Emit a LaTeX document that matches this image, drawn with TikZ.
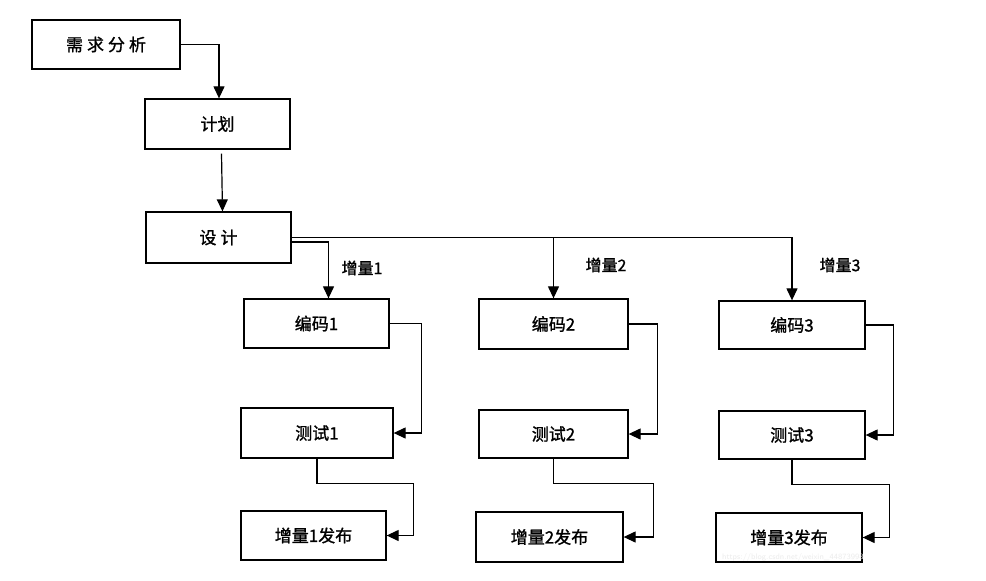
\documentclass[tikz,border=0pt]{standalone}
\usepackage{fontspec}
\newfontfamily\cjk{Noto Sans CJK SC}[FakeBold=1.2]
\usetikzlibrary{arrows.meta}
\tikzset{
  box/.style={draw, line width=1.3pt, rectangle, inner sep=0pt, font=\cjk\fontsize{17}{19}\selectfont},
  arr/.style={line width=1.2pt, -{Triangle[length=12pt,width=11pt]}},
  lbl/.style={font=\cjk\fontsize{16}{18}\selectfont, inner sep=0pt},
  wm/.style={font=\sffamily\fontsize{8}{9}\selectfont, text=gray!15, inner sep=0pt}
}
\begin{document}
\begin{tikzpicture}[x=1pt,y=-1pt]
\useasboundingbox[fill=white] (0,0) rectangle (986,581);
% main chain
\node[box, minimum width=148pt, minimum height=49pt] (req) at (106,44.5) {需\hspace{4pt}求\hspace{4pt}分\hspace{4pt}析};
\node[box, minimum width=145pt, minimum height=50pt] (plan) at (217.5,124) {计划};
\node[box, minimum width=145pt, minimum height=51pt] (design) at (218.5,237.5) {设\hspace{4pt}计};
% column 1
\node[box, minimum width=145pt, minimum height=49pt] (c1) at (316.5,323.5) {编码1};
\node[box, minimum width=152pt, minimum height=50pt] (t1) at (317,433) {测试1};
\node[box, minimum width=145pt, minimum height=49pt] (r1) at (313.5,535.5) {增量1发布};
% column 2
\node[box, minimum width=149pt, minimum height=50pt] (c2) at (553.5,324) {编码2};
\node[box, minimum width=149pt, minimum height=48pt] (t2) at (553.5,434) {测试2};
\node[box, minimum width=147pt, minimum height=50pt] (r2) at (549.5,537) {增量2发布};
% column 3
\node[box, minimum width=146pt, minimum height=48pt] (c3) at (792,325) {编码3};
\node[box, minimum width=146pt, minimum height=48pt] (t3) at (792,435) {测试3};
\node[box, minimum width=146pt, minimum height=49pt] (r3) at (789,537.5) {增量3发布};
% labels
\node[lbl] (l1) at (362,268) {增量1};
\node[lbl] (l2) at (606,265) {增量2};
\node[lbl] (l3) at (840,265) {增量3};
% connectors
\draw[arr] (req.east) -| ([xshift=1.5pt]plan.north);
\draw[arr] ([xshift=4pt,yshift=-4pt]plan.south) -- ([xshift=4pt]design.north);
\draw[arr] (design.east) -| (c3.north);
\draw[arr] (design.east -| c2.north) -- (c2.north);
\draw[arr] ([yshift=-4.5pt]design.east) -| ([xshift=12pt]c1.north);
% coding -> testing
\draw[arr] (c1.east) -- ++(32,0) |- (t1.east);
\draw[arr] (c2.east) -- ++(29,0) |- (t2.east);
\draw[arr] (c3.east) -- ++(28,0) |- (t3.east);
% testing -> release
\draw[arr] (t1.south) -- ++(0,25) -| ([xshift=27pt]r1.east) -- (r1.east);
\draw[arr] (t2.south) -- ++(0,25) -| ([xshift=30pt]r2.east) -- (r2.east);
\draw[arr] (t3.south) -- ++(0,25) -| ([xshift=27pt]r3.east) -- (r3.east);
% watermark
\node[wm, anchor=west] (wmk) at (722,557) {https://blog.csdn.net/weixin\_44873998};
\end{tikzpicture}
\end{document}
